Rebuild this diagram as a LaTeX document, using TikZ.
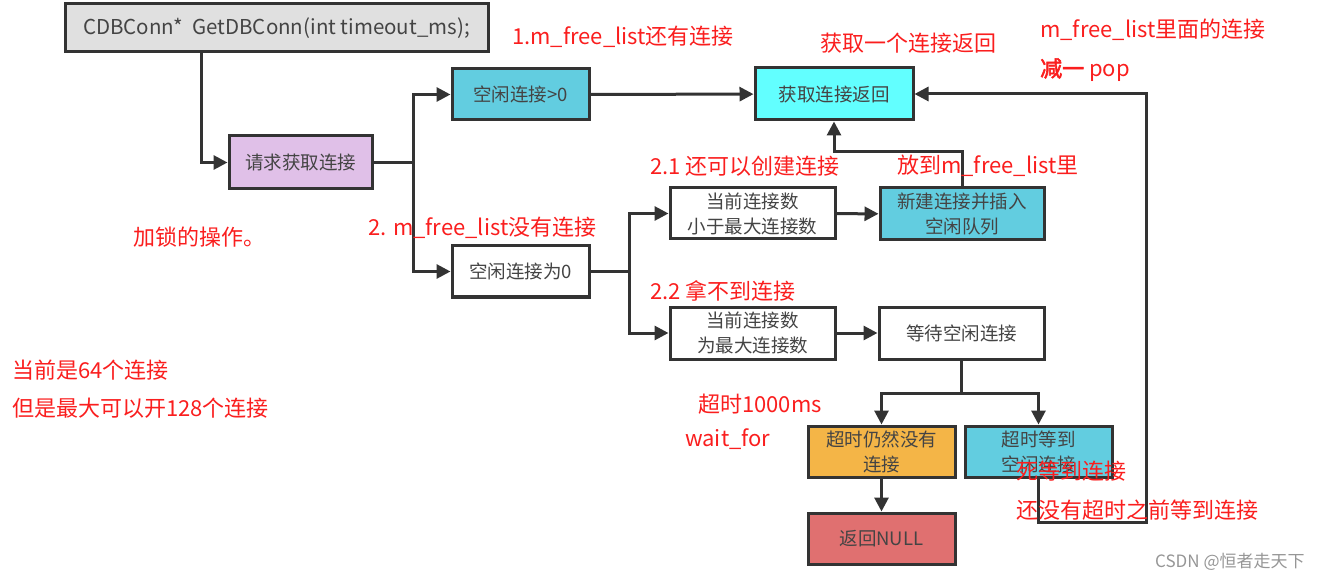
\documentclass[tikz,border=0pt]{standalone}
\usepackage{fontspec}
\usepackage{tikz}
\usetikzlibrary{arrows.meta}
\newfontfamily\cjk{Noto Sans CJK SC}[AutoFakeBold=2.5]
\definecolor{boxline}{RGB}{51,51,51}
\definecolor{boxtext}{RGB}{68,68,68}
\definecolor{notered}{RGB}{250,30,30}
\definecolor{cyanfill}{RGB}{98,205,224}
\definecolor{aquafill}{RGB}{98,255,255}
\definecolor{lilac}{RGB}{224,192,232}
\definecolor{grayfill}{RGB}{224,224,224}
\definecolor{orangefill}{RGB}{244,181,71}
\definecolor{redfill}{RGB}{224,112,112}
\tikzset{
  box/.style={draw=boxline,line width=3pt,text=boxtext,font=\cjk\fontsize{18.5}{25}\selectfont,align=center,inner sep=0pt},
  note/.style={text=notered,font=\cjk\fontsize{22}{24}\selectfont,anchor=west,inner sep=0pt},
  link/.style={draw=boxline,line width=3pt},
  arr/.style={link,-{Triangle[length=14pt,width=14pt]}}
}
\begin{document}
\begin{tikzpicture}[x=1pt,y=-1pt]
\useasboundingbox (0,0) rectangle (1342,580);
\node [box,fill=grayfill,minimum width=423,minimum height=48,font=\cjk\fontsize{20.5}{24}\selectfont] (db) at (276.5,28) {CDBConn*\ \ GetDBConn(int\ timeout\_ms);};
\node [box,fill=lilac,minimum width=143,minimum height=53] (req) at (300.5,162.5) {请求获取连接};
\node [box,fill=cyanfill,minimum width=137,minimum height=51] (gt0) at (520.5,94.5) {空闲连接>0};
\node [box,fill=aquafill,minimum width=158,minimum height=52] (ret) at (834,94) {获取连接返回};
\node [box,fill=white,minimum width=137,minimum height=51] (eq0) at (520.5,271.5) {空闲连接为0};
\node [box,fill=white,minimum width=165,minimum height=51] (lt) at (752.5,213.5) {当前连接数\\小于最大连接数};
\node [box,fill=cyanfill,minimum width=164,minimum height=52] (newc) at (962,214) {新建连接并插入\\空闲队列};
\node [box,fill=white,minimum width=165,minimum height=52] (full) at (752.5,333) {当前连接数\\为最大连接数};
\node [box,fill=white,minimum width=165,minimum height=52] (wait) at (961.5,333) {等待空闲连接};
\node [box,fill=orangefill,minimum width=147,minimum height=51] (tout) at (881.5,451.5) {超时仍然没有\\连接};
\node [box,fill=cyanfill,minimum width=147,minimum height=51] (got) at (1038.5,451.5) {超时等到\\空闲连接};
\node [box,fill=redfill,minimum width=147,minimum height=51] (null) at (881.5,538.5) {返回NULL};
\coordinate (loop) at (1146,522);
\draw [arr] ([xshift=-75.5pt]db.south) |- (req.west);
\draw [link] (req.east) -- ++(40,0) coordinate (s1);
\draw [arr] (s1) |- (gt0.west);
\draw [arr] (s1) |- (eq0.west);
\draw [arr] (gt0) -- (ret);
\draw [link] (eq0.east) -- ++(39,0) coordinate (s2);
\draw [arr] (s2) |- (lt.west);
\draw [arr] (s2) |- (full.west);
\draw [arr] (lt) -- (newc);
\draw [arr] (newc.north) -- ++(0,-35) -| (ret.south);
\draw [arr] (full) -- (wait);
\draw [link] (wait.south) -- ++(0,33) coordinate (s3);
\draw [arr] (s3) -| (tout.north);
\draw [arr] (s3) -| (got.north);
\draw [arr] (tout) -- (null);
\draw [arr] (got.south) |- (loop) |- (ret.east);
\node [note] (n1) at (512,37) {1.m\_free\_list还有连接};
\node [note] (n2) at (820,43) {获取一个连接返回};
\node [note] (n3) at (1040,30) {m\_free\_list里面的连接};
\node [note] (n4) at (1040,70) {\bfseries 减一\mdseries{} pop};
\node [note] (n5) at (650,166) {2.1 还可以创建连接};
\node [note] (n6) at (897,166) {放到m\_free\_list里};
\node [note] (n7) at (368,228) {2. m\_free\_list没有连接};
\node [note] (n8) at (133,237) {加锁的操作。};
\node [note] (n9) at (650,291) {2.2 拿不到连接};
\node [note] (n10) at (12,370) {当前是64个连接};
\node [note] (n11) at (12,408) {但是最大可以开128个连接};
\node [note] (n12) at (698,404) {超时1000ms};
\node [note] (n13) at (685,439) {wait\_for};
\node [note] (n14) at (1016,471) {死等到连接};
\node [note] (n15) at (1016,510) {还没有超时之前等到连接};
\node [note,text={rgb,255:red,150;green,150;blue,150},font=\cjk\fontsize{17}{20}\selectfont] (mark) at (1155,562) {CSDN @恒者走天下};
\end{tikzpicture}
\end{document}
